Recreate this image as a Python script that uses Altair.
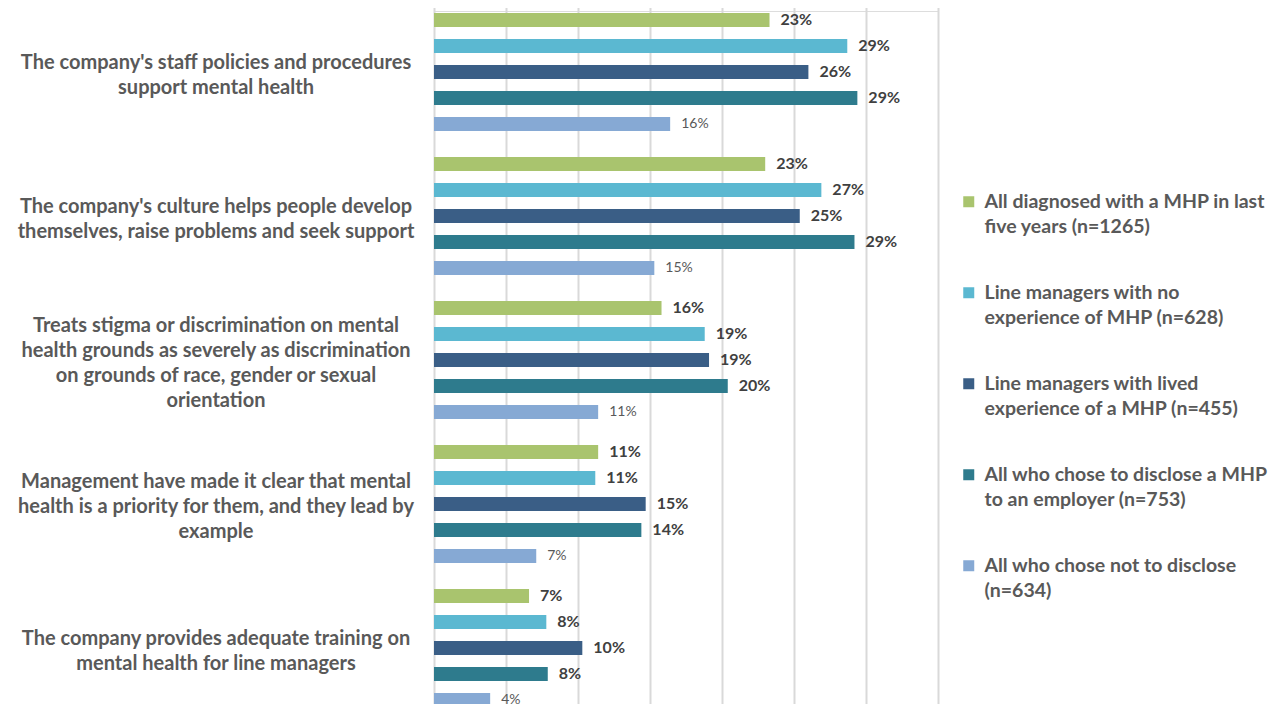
import altair as alt
import pandas as pd

categories = [
    "The company's staff policies and procedures|support mental health",
    "The company's culture helps people develop|themselves, raise problems and seek support",
    "Treats stigma or discrimination on mental|health grounds as severely as discrimination|on grounds of race, gender or sexual|orientation",
    "Management have made it clear that mental|health is a priority for them, and they lead by|example",
    "The company provides adequate training on|mental health for line managers",
]
series = [
    "All diagnosed with a MHP in last|five years (n=1265)",
    "Line managers with no|experience of MHP (n=628)",
    "Line managers with lived|experience of a MHP (n=455)",
    "All who chose to disclose a MHP|to an employer (n=753)",
    "All who chose not to disclose|(n=634)",
]
colors = ["#A9C46E", "#5BB8D1", "#3A5E86", "#2E7B8D", "#86A9D4"]

diagnosed = [23.3, 23.0, 15.8, 11.4, 6.6]
lm_no_exp = [28.7, 26.9, 18.8, 11.2, 7.8]
lm_lived = [26.0, 25.4, 19.1, 14.7, 10.3]
disclosed = [29.4, 29.2, 20.4, 14.4, 7.9]
not_disclosed = [16.4, 15.3, 11.4, 7.1, 3.9]

all_values = [diagnosed, lm_no_exp, lm_lived, disclosed, not_disclosed]
rows = []
for s, vals in zip(series, all_values):
    for c, v in zip(categories, vals):
        rows.append({"category": c, "series": s, "value": v,
                     "label": f"{round(v)}%", "light": s == series[-1]})
df = pd.DataFrame(rows)
cat_df = pd.DataFrame({"category": categories,
                       "n": [c.count("|") + 1 for c in categories]})

FONT = "Lato"
LH = 25

yenc = alt.Y("category:N", sort=categories,
             scale=alt.Scale(range=[-11, 709], paddingInner=0, paddingOuter=0),
             axis=None)

base = alt.Chart(df).encode(
    y=yenc,
    yOffset=alt.YOffset("series:N", sort=series,
                        scale=alt.Scale(paddingInner=12 / 26, paddingOuter=0.5)),
)

bars = base.mark_bar().encode(
    x=alt.X("value:Q", scale=alt.Scale(domain=[0, 35], nice=False),
            axis=alt.Axis(title=None, labels=False, ticks=False, domain=False,
                          values=[0, 5, 10, 15, 20, 25, 30, 35],
                          gridColor="#D9D9D9", gridWidth=2)),
    color=alt.Color("series:N", sort=series,
                    scale=alt.Scale(domain=series, range=colors),
                    legend=alt.Legend(title=None, orient="none", legendX=525, legendY=181,
                                      symbolType="square", symbolSize=121,
                                      symbolStrokeWidth=0,
                                      labelExpr="split(datum.label, '|')",
                                      labelFont=FONT, labelFontWeight="bold",
                                      labelFontSize=19.5, labelColor="#595959",
                                      labelLimit=0,
                                      labelOffset=6, rowPadding=45,
                                      labelBaseline="middle")),
)

bold_labels = base.transform_filter("!datum.light").mark_text(
    align="left", baseline="middle", dx=11, font=FONT, fontWeight="bold",
    fontSize=16, color="#404040"
).encode(x="value:Q", text="label:N")

light_labels = base.transform_filter("datum.light").mark_text(
    align="left", baseline="middle", dx=11, font=FONT, fontWeight="normal",
    fontSize=14, color="#595959"
).encode(x="value:Q", text="label:N")

cat_layers = []
for n in sorted(set(cat_df["n"])):
    cat_layers.append(
        alt.Chart(cat_df).transform_filter(f"datum.n == {n}").mark_text(
            align="center", baseline="middle", font=FONT, fontWeight="bold",
            fontSize=20, color="#595959", lineBreak="|", lineHeight=LH,
            dy=-(n - 1) * LH / 2 + 3,
        ).encode(y=yenc, x=alt.value(-218), text="category:N")
    )

chart = alt.layer(bars, bold_labels, light_labels, *cat_layers).properties(
    width=504, height=700,
    autosize=alt.AutoSizeParams(type="none"),
    padding={"left": 426, "top": 3, "right": 339, "bottom": 0},
).configure_view(stroke=None).configure(
    style={"guide-label": {"lineHeight": LH}}
)

chart.save("out.html", embed_options={"renderer": "svg", "actions": False})
